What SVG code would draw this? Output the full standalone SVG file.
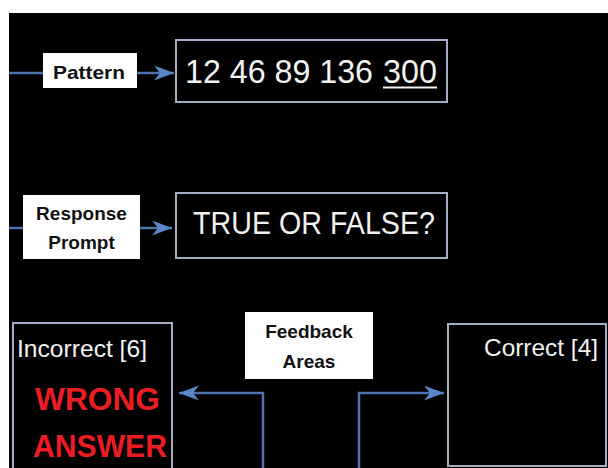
<svg xmlns="http://www.w3.org/2000/svg" width="608" height="468" viewBox="0 0 608 468">
<style>
.bg{fill:#000}
.box{fill:#000;stroke:#a3aec6;stroke-width:2}
.lbl{fill:#fff}
.lt{font-family:"Liberation Sans",Arial,sans-serif;font-weight:bold;font-size:19px;fill:#111;text-anchor:middle}
.wt{font-family:"Liberation Sans",Arial,sans-serif;fill:#f2f2f2}
.red{font-family:"Liberation Sans",Arial,sans-serif;font-weight:bold;fill:#ec1c24}
.conn{fill:none;stroke:#4f73ad;stroke-width:2.5}
</style>
<defs>
<marker id="ah" markerUnits="userSpaceOnUse" markerWidth="22" markerHeight="16" refX="20" refY="7.5" orient="auto">
<path d="M0,0 L20,7.5 L0,15 L6,7.5 Z" fill="#5b87c9"/>
</marker>
</defs>
<rect x="0" y="0" width="608" height="468" fill="#fff"/>
<rect class="bg" x="9" y="13" width="599" height="455"/>
<g id="connectors">
<line class="conn" x1="9" y1="73" x2="43" y2="73"/>
<line class="conn" x1="137" y1="73" x2="174" y2="73" marker-end="url(#ah)"/>
<line class="conn" x1="9" y1="228" x2="23" y2="228"/>
<line class="conn" x1="140" y1="228" x2="172" y2="228" marker-end="url(#ah)"/>
<polyline class="conn" points="263,468 263,393 179,393" marker-end="url(#ah)"/>
<polyline class="conn" points="359,468 359,393 444,393" marker-end="url(#ah)"/>
</g>
<g id="pattern-label">
<rect class="lbl" x="43" y="53" width="94" height="35"/>
<text class="lt" x="89" y="79" textLength="72" lengthAdjust="spacingAndGlyphs">Pattern</text>
</g>
<g id="pattern-box">
<rect class="box" x="176" y="40" width="271" height="62"/>
<text class="wt" x="185" y="83" font-size="33" textLength="188" lengthAdjust="spacingAndGlyphs">12 46 89 136</text>
<text class="wt" x="383" y="83" font-size="33" textLength="54" lengthAdjust="spacingAndGlyphs">300</text>
<line x1="383" y1="87.5" x2="437" y2="87.5" stroke="#f2f2f2" stroke-width="2"/>
</g>
<g id="response-label">
<rect class="lbl" x="23" y="195" width="117" height="64"/>
<text class="lt" x="81.5" y="220">Response</text>
<text class="lt" x="81.5" y="249">Prompt</text>
</g>
<g id="prompt-box">
<rect class="box" x="176" y="193" width="271" height="65"/>
<text class="wt" x="193" y="234" font-size="31" textLength="242" lengthAdjust="spacingAndGlyphs">TRUE OR FALSE?</text>
</g>
<g id="feedback-label">
<rect class="lbl" x="245" y="312" width="128" height="67"/>
<text class="lt" x="309" y="338">Feedback</text>
<text class="lt" x="309" y="368">Areas</text>
</g>
<g id="incorrect-box">
<rect class="box" x="13" y="323" width="159" height="150"/>
<text class="wt" x="17" y="357" font-size="24" textLength="130" lengthAdjust="spacingAndGlyphs">Incorrect [6]</text>
<text class="red" x="35" y="410" font-size="32" textLength="125" lengthAdjust="spacingAndGlyphs">WRONG</text>
<text class="red" x="33" y="457" font-size="32" textLength="134" lengthAdjust="spacingAndGlyphs">ANSWER</text>
</g>
<g id="correct-box">
<rect class="box" x="448" y="324" width="158" height="142"/>
<text class="wt" x="484" y="356" font-size="24" textLength="114" lengthAdjust="spacingAndGlyphs">Correct [4]</text>
</g>
</svg>
